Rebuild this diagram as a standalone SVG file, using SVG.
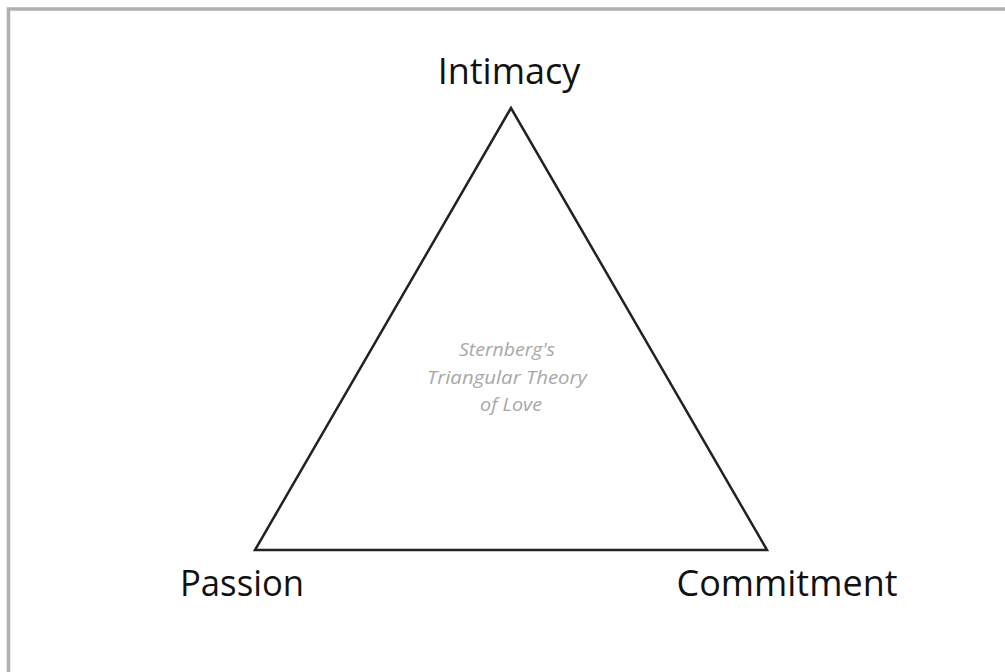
<svg xmlns="http://www.w3.org/2000/svg" width="1005" height="672" viewBox="0 0 1005 672">
<style>
.lbl{font-family:"Open Sans","Liberation Sans",sans-serif;font-size:36px;fill:#111;text-anchor:middle}
.ttl{font-family:"Open Sans","Liberation Sans",sans-serif;font-size:18px;font-style:italic;fill:#a8a8a8;text-anchor:middle}
</style>
<rect width="1005" height="672" fill="#fff"/>
<path d="M8.5 674 V9 H1007" fill="none" stroke="#b0b0b0" stroke-width="3.5"/>
<g id="connectors" fill="none" stroke="#222" stroke-width="2.5" stroke-linejoin="miter">
<path d="M511 108 L255 550 L767 550 Z"/>
</g>
<g id="intimacy"><text class="lbl" x="509" y="84">Intimacy</text></g>
<g id="passion"><text class="lbl" x="242" y="596" textLength="124" lengthAdjust="spacingAndGlyphs">Passion</text></g>
<g id="commitment"><text class="lbl" x="787" y="596" textLength="221" lengthAdjust="spacingAndGlyphs">Commitment</text></g>
<g id="title">
<text class="ttl" x="507" y="356" textLength="96" lengthAdjust="spacingAndGlyphs">Sternberg's</text>
<text class="ttl" x="507" y="384" textLength="160" lengthAdjust="spacingAndGlyphs">Triangular Theory</text>
<text class="ttl" x="511" y="411" textLength="62" lengthAdjust="spacingAndGlyphs">of Love</text>
</g>
</svg>
